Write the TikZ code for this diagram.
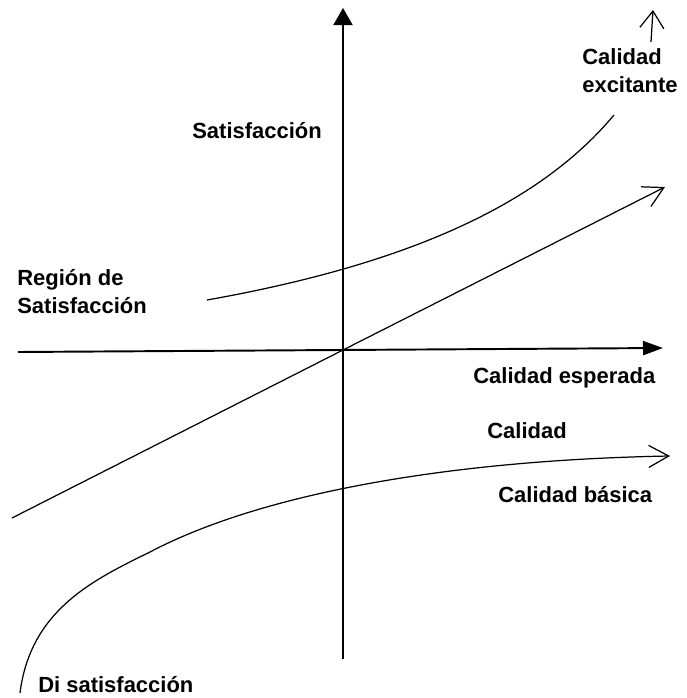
\documentclass[tikz,border=0pt]{standalone}
\usepackage{fontspec}
\setmainfont{Liberation Sans}
\usetikzlibrary{arrows.meta}

\begin{document}
\begin{tikzpicture}
    \tikzstyle{lbl} = [font=\fontsize{12.5}{15.4}\selectfont\bfseries, inner sep=0pt, align=left]
    \tikzstyle{axis} = [line width=1.1pt, -{Triangle[length=0.34cm,width=0.38cm]}]
    \tikzstyle{curve} = [line width=0.7pt]
    \tikzstyle{open} = [curve, -{Straight Barb[length=0.4cm,width=0.44cm]}]
        \useasboundingbox (-6.86,-6.96) rectangle (6.88,7.0);
        \coordinate (o) at (0,0);
        \coordinate (ybot) at (0,-6.18);
        \coordinate (ytop) at (0,6.84);
        \coordinate (xl) at (-6.5,-0.04);
        \coordinate (xr) at (6.4,0.04);
        \coordinate (dl) at (-6.62,-3.36);
        \coordinate (dr) at (6.44,3.26);
        \coordinate (ab) at (6.16,6.16);
        \coordinate (at) at (6.2,6.8);
        \coordinate (ea) at (-2.72,1.0);
        \coordinate (eb) at (5.42,4.7);
        \coordinate (ba) at (-6.46,-6.86);
        \coordinate (bm) at (-3.86,-4.04);
        \coordinate (bb) at (6.54,-2.12);
        \node (sat) [lbl, anchor=base west] at (-3.02,4.24) {Satisfacción};
        \node (exc) [lbl, anchor=base west] at (4.78,5.16) {Calidad\\excitante};
        \node (reg) [lbl, anchor=base west] at (-6.52,0.74) {Región de\\Satisfacción};
        \node (esp) [lbl, anchor=base west] at (2.6,-0.66) {Calidad esperada};
        \node (cal) [lbl, anchor=base west] at (2.88,-1.76) {Calidad};
        \node (bas) [lbl, anchor=base west] at (3.1,-3.04) {Calidad básica};
        \node (dis) [lbl, anchor=base west] at (-6.1,-6.84) {Di satisfacción};
        \draw[axis] (ybot) -- (ytop);
        \draw[axis, -{Triangle[length=0.4cm,width=0.28cm]}] (xl) -- (xr);
        \draw[open] (dl) -- (o) -- (dr);
        \draw[curve] (ea) .. controls (1.5,1.75) and (4.0,3.0) .. (eb);
        \draw[open] (ba) .. controls (-6.25,-5.2) and (-5.0,-4.6) .. (bm)
                         .. controls (-1.6,-2.85) and (2.2,-2.2) .. (bb);
        \draw[open, -{Straight Barb[length=0.34cm,width=0.48cm]}] (ab) -- (at);
\end{tikzpicture}
\end{document}
